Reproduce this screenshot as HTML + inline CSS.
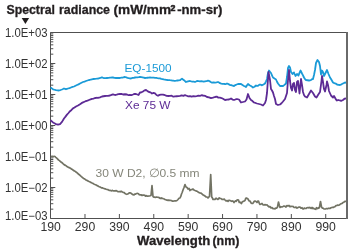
<!DOCTYPE html>
<html><head><meta charset="utf-8"><style>
html,body{margin:0;padding:0;background:#fff;width:350px;height:250px;overflow:hidden}
svg{display:block;will-change:transform}
text{font-family:"Liberation Sans",sans-serif}
</style></head><body>
<svg width="350" height="250" viewBox="0 0 350 250">
<rect width="350" height="250" fill="#fff"/>
<g font-weight="bold" fill="#231f20" stroke="#231f20" stroke-width="0.3">
<text x="6.5" y="13.7" font-size="12" textLength="48.5" lengthAdjust="spacingAndGlyphs">Spectral</text>
<text x="59" y="13.7" font-size="12" textLength="51" lengthAdjust="spacingAndGlyphs">radiance</text>
<text x="113.5" y="13.7" font-size="12" textLength="57.5" lengthAdjust="spacingAndGlyphs">(mW/mm</text>
<text x="170.5" y="10.8" font-size="8.8" stroke-width="0.6">2</text>
<text x="177.2" y="13.7" font-size="12" textLength="45.3" lengthAdjust="spacingAndGlyphs">-nm-sr)</text>
</g>
<path d="M21.7 18H29.1L25.4 24Z" fill="#231f20"/>
<g fill="#333">
<text x="5" y="37.0" font-size="12" textLength="42.5" lengthAdjust="spacingAndGlyphs">1.0E+03</text>
<text x="5" y="68.0" font-size="12" textLength="42.5" lengthAdjust="spacingAndGlyphs">1.0E+02</text>
<text x="5" y="99.0" font-size="12" textLength="42.5" lengthAdjust="spacingAndGlyphs">1.0E+01</text>
<text x="5" y="130.0" font-size="12" textLength="42.5" lengthAdjust="spacingAndGlyphs">1.0E+00</text>
<text x="5" y="161.0" font-size="12" textLength="42.5" lengthAdjust="spacingAndGlyphs">1.0E−01</text>
<text x="5" y="192.0" font-size="12" textLength="42.5" lengthAdjust="spacingAndGlyphs">1.0E−02</text>
<text x="5" y="220.0" font-size="12" textLength="42.5" lengthAdjust="spacingAndGlyphs">1.0E−03</text>
<text x="40.4" y="230.5" font-size="12.5" textLength="20.4" lengthAdjust="spacingAndGlyphs">190</text>
<text x="74.8" y="230.5" font-size="12.5" textLength="20.4" lengthAdjust="spacingAndGlyphs">290</text>
<text x="109.2" y="230.5" font-size="12.5" textLength="20.4" lengthAdjust="spacingAndGlyphs">390</text>
<text x="143.6" y="230.5" font-size="12.5" textLength="20.4" lengthAdjust="spacingAndGlyphs">490</text>
<text x="178.0" y="230.5" font-size="12.5" textLength="20.4" lengthAdjust="spacingAndGlyphs">590</text>
<text x="212.3" y="230.5" font-size="12.5" textLength="20.4" lengthAdjust="spacingAndGlyphs">690</text>
<text x="246.7" y="230.5" font-size="12.5" textLength="20.4" lengthAdjust="spacingAndGlyphs">790</text>
<text x="281.1" y="230.5" font-size="12.5" textLength="20.4" lengthAdjust="spacingAndGlyphs">890</text>
<text x="315.5" y="230.5" font-size="12.5" textLength="20.4" lengthAdjust="spacingAndGlyphs">990</text>
</g>
<g font-size="12" font-weight="bold" fill="#231f20" stroke="#231f20" stroke-width="0.3">
<text x="137" y="245" textLength="73.3" lengthAdjust="spacingAndGlyphs">Wavelength</text>
<text x="212.5" y="245" textLength="26.8" lengthAdjust="spacingAndGlyphs">(nm)</text>
</g>
<g fill="none" stroke="#505050" stroke-width="1">
<path d="M50.5 218.5V32.5H346M50.5 218.5H346"/>
<path d="M347 32V219" stroke="#6a6a6a" stroke-width="2"/>
<path d="M50.5 32.5h4.8 M50.5 54.17h2.8 M50.5 48.71h2.8 M50.5 44.84h2.8 M50.5 41.83h2.8 M50.5 39.38h2.8 M50.5 37.30h2.8 M50.5 35.50h2.8 M50.5 33.92h2.8 M50.5 63.5h4.8 M50.5 85.17h2.8 M50.5 79.71h2.8 M50.5 75.84h2.8 M50.5 72.83h2.8 M50.5 70.38h2.8 M50.5 68.30h2.8 M50.5 66.50h2.8 M50.5 64.92h2.8 M50.5 94.5h4.8 M50.5 116.17h2.8 M50.5 110.71h2.8 M50.5 106.84h2.8 M50.5 103.83h2.8 M50.5 101.38h2.8 M50.5 99.30h2.8 M50.5 97.50h2.8 M50.5 95.92h2.8 M50.5 125.5h4.8 M50.5 147.17h2.8 M50.5 141.71h2.8 M50.5 137.84h2.8 M50.5 134.83h2.8 M50.5 132.38h2.8 M50.5 130.30h2.8 M50.5 128.50h2.8 M50.5 126.92h2.8 M50.5 156.5h4.8 M50.5 178.17h2.8 M50.5 172.71h2.8 M50.5 168.84h2.8 M50.5 165.83h2.8 M50.5 163.38h2.8 M50.5 161.30h2.8 M50.5 159.50h2.8 M50.5 157.92h2.8 M50.5 187.5h4.8 M50.5 209.17h2.8 M50.5 203.71h2.8 M50.5 199.84h2.8 M50.5 196.83h2.8 M50.5 194.38h2.8 M50.5 192.30h2.8 M50.5 190.50h2.8 M50.5 188.92h2.8 M50.5 218.5h4.8 M84.99 218v-4 M119.38 218v-4 M153.77 218v-4 M188.16 218v-4 M222.55 218v-4 M256.94 218v-4 M291.33 218v-4 M325.72 218v-4"/>
</g>
<polyline fill="none" stroke="#1a9ad7" stroke-width="1.8" stroke-linejoin="round" points="50.50,87.50 51.75,88.35 53.00,89.30 54.50,89.76 56.00,90.20 57.50,90.33 59.00,90.50 60.50,90.02 62.00,89.50 63.00,89.02 64.00,88.50 65.00,88.82 66.00,89.30 67.00,88.81 68.00,88.50 69.50,88.06 71.00,87.50 72.50,86.96 74.00,86.50 75.50,85.70 77.00,85.00 78.50,84.34 80.00,83.50 81.50,82.74 83.00,82.00 84.50,81.56 86.00,81.00 87.50,80.50 89.00,80.00 90.50,79.68 92.00,79.30 93.50,78.99 95.00,78.80 96.50,78.67 98.00,78.50 99.50,78.17 101.00,77.70 102.00,77.30 103.00,77.75 104.00,78.20 105.50,78.14 107.00,78.00 108.50,77.88 110.00,77.70 111.50,77.52 113.00,77.50 114.50,77.80 116.00,78.00 117.33,78.02 118.67,77.96 120.00,78.00 121.25,77.67 122.50,77.57 123.75,77.25 125.00,77.00 126.25,77.41 127.50,77.82 128.75,78.16 130.00,78.50 131.25,78.33 132.50,77.98 133.75,77.80 135.00,77.50 136.25,77.37 137.50,77.33 138.75,77.19 140.00,77.00 141.25,77.18 142.50,77.43 143.75,77.70 145.00,78.00 146.25,77.96 147.50,77.74 148.75,77.65 150.00,77.50 151.25,77.54 152.50,77.65 153.75,77.70 155.00,77.80 156.25,77.92 157.50,78.12 158.75,78.27 160.00,78.40 161.25,78.77 162.50,79.03 163.75,79.38 165.00,79.60 166.25,79.81 167.50,79.99 168.75,80.08 170.00,80.20 171.25,80.29 172.50,80.56 173.75,80.73 175.00,80.80 176.25,80.72 177.50,80.51 178.75,80.39 180.00,80.20 181.00,79.35 182.00,78.60 183.00,79.46 184.00,80.20 185.00,81.11 186.00,82.00 187.00,81.66 188.00,81.40 189.00,81.12 190.00,81.00 191.25,81.31 192.50,81.59 193.75,81.68 195.00,82.00 196.00,81.55 197.00,81.00 198.50,81.18 200.00,81.40 201.25,81.19 202.50,81.28 203.75,81.56 205.00,81.40 206.50,81.22 208.00,80.60 209.33,80.99 210.67,82.00 212.00,82.60 213.50,82.33 215.00,82.60 216.50,82.43 218.00,82.00 219.00,82.50 220.00,83.20 221.25,83.63 222.50,83.89 223.75,83.80 225.00,84.00 226.00,84.05 227.00,83.50 228.50,84.14 230.00,85.00 231.33,85.08 232.67,85.73 234.00,86.00 235.33,85.05 236.67,84.49 238.00,84.00 239.50,83.94 241.00,84.00 242.50,85.07 244.00,86.00 245.00,86.29 246.00,87.00 247.00,85.23 248.00,84.00 249.50,85.22 251.00,86.00 252.00,86.64 253.00,87.50 254.50,86.78 256.00,85.50 257.00,85.89 258.00,85.80 259.00,85.08 260.00,84.50 261.00,84.88 262.00,85.30 263.50,84.41 265.00,83.50 266.00,81.34 267.00,79.00 268.00,73.00 269.00,70.50 270.00,71.81 271.00,73.00 272.00,75.29 273.00,77.50 274.50,78.57 276.00,79.50 277.00,81.76 278.00,83.50 279.00,84.75 280.00,86.00 281.50,85.96 283.00,86.00 284.50,84.88 286.00,83.50 287.00,77.00 288.00,68.00 289.00,66.00 290.00,67.50 291.00,72.00 292.50,74.00 294.00,72.50 295.50,76.00 297.00,74.00 298.50,75.50 299.50,72.84 300.50,70.50 302.00,73.50 303.00,75.38 304.00,77.50 305.00,79.04 306.00,80.00 307.50,80.26 309.00,80.50 310.00,80.28 311.00,80.00 312.00,79.21 313.00,79.00 314.00,75.00 315.00,70.00 316.00,63.00 317.50,60.00 319.00,62.00 320.00,66.00 321.00,74.50 322.00,70.50 323.00,72.00 324.00,76.00 325.50,73.00 327.00,70.00 328.50,74.00 330.00,77.50 331.00,79.00 332.00,80.70 333.00,82.50 334.33,83.21 335.67,83.55 337.00,84.50 338.50,84.82 340.00,85.00 341.50,84.33 343.00,83.50 344.50,82.74 346.00,82.50"/>
<polyline fill="none" stroke="#5d2b95" stroke-width="1.8" stroke-linejoin="round" points="50.50,120.20 53.00,122.40 54.50,123.29 56.00,124.10 58.00,124.70 60.00,124.10 62.00,121.90 64.00,118.50 65.50,116.63 67.00,114.60 68.50,113.00 70.00,111.20 71.50,109.95 73.00,108.40 74.50,107.53 76.00,106.50 78.00,105.49 80.00,104.20 81.50,103.14 83.00,102.40 84.50,101.69 86.00,101.00 87.50,100.65 89.00,100.00 90.50,99.45 92.00,98.80 93.50,98.53 95.00,98.00 96.50,97.77 98.00,97.80 100.00,97.30 102.00,96.50 103.50,96.24 105.00,96.00 106.50,95.82 108.00,95.80 110.00,95.50 111.50,94.91 113.00,94.30 115.00,95.00 116.67,94.69 118.33,94.17 120.00,94.00 121.50,93.94 123.00,94.50 125.00,94.26 127.00,94.50 128.50,95.21 130.00,95.00 131.50,95.04 133.00,94.50 134.50,93.88 136.00,94.00 138.50,95.00 140.00,92.50 141.50,92.33 143.00,91.50 144.50,90.35 146.00,90.00 147.50,91.13 149.00,92.00 150.50,92.34 152.00,93.50 153.50,92.90 155.00,93.40 156.50,95.01 158.00,95.80 159.50,94.88 161.00,94.60 163.00,94.59 165.00,95.20 166.67,95.93 168.33,96.01 170.00,95.80 171.67,95.77 173.33,96.71 175.00,96.40 176.67,96.24 178.33,96.20 180.00,95.80 181.67,95.28 183.33,95.89 185.00,95.20 186.67,95.74 188.33,96.38 190.00,96.20 191.67,96.70 193.33,96.11 195.00,96.40 196.67,96.05 198.33,95.63 200.00,95.80 201.50,95.26 203.00,95.50 205.00,95.77 207.00,97.00 209.00,97.38 211.00,98.20 213.00,97.71 215.00,97.00 216.67,96.65 218.33,97.60 220.00,97.60 221.50,98.02 223.00,98.80 225.00,100.00 227.00,99.54 229.00,99.50 231.00,98.50 232.50,99.60 234.00,100.00 235.50,99.48 237.00,99.00 239.00,99.50 241.00,102.50 243.00,102.00 245.00,101.50 246.50,99.50 248.00,94.00 249.50,98.00 251.00,100.00 252.50,101.05 254.00,102.50 255.50,102.98 257.00,103.50 259.00,104.00 261.00,104.50 263.00,105.50 265.00,103.00 266.00,100.00 267.00,93.00 268.50,72.00 270.00,80.00 271.00,89.00 272.00,90.50 273.00,92.50 274.00,96.00 275.00,99.00 276.00,104.00 278.00,105.00 280.00,104.50 281.50,103.23 283.00,101.50 285.00,99.00 287.00,93.00 288.00,80.00 289.00,70.00 290.00,81.00 291.00,88.00 292.00,90.50 293.00,84.00 294.00,83.00 295.00,90.00 296.00,92.00 297.00,82.00 298.00,81.00 299.50,93.50 301.00,79.00 302.00,85.00 303.00,92.00 304.00,95.00 305.00,96.50 307.00,97.50 309.00,94.00 311.00,90.50 313.00,93.00 315.00,96.50 316.50,97.50 318.00,95.00 320.00,92.00 321.50,81.00 322.00,76.00 323.00,82.00 324.00,89.00 325.00,91.50 326.50,85.00 327.00,81.50 328.00,85.00 329.00,91.00 331.00,95.50 333.00,97.50 334.00,96.00 336.00,99.50 337.00,100.50 338.50,100.01 340.00,100.50 341.50,100.77 343.00,100.00 344.50,98.73 346.00,98.50"/>
<polyline fill="none" stroke="#727364" stroke-width="1.7" stroke-linejoin="round" points="51.00,156.50 51.80,156.45 52.60,156.40 53.40,156.55 54.20,156.37 55.00,156.50 55.75,157.26 56.50,157.96 57.25,158.62 58.00,159.50 58.75,160.13 59.50,160.61 60.25,161.36 61.00,162.00 61.75,162.50 62.50,163.13 63.25,163.85 64.00,164.50 64.75,165.10 65.50,165.39 66.25,165.92 67.00,166.50 67.75,166.91 68.50,167.38 69.25,167.65 70.00,168.00 70.75,168.47 71.50,169.14 72.25,169.36 73.00,170.00 73.75,170.61 74.50,170.94 75.25,171.39 76.00,172.00 76.75,172.51 77.50,173.19 78.25,173.97 79.00,174.50 79.80,175.10 80.60,175.92 81.40,176.64 82.20,177.26 83.00,178.00 83.75,178.51 84.50,178.87 85.25,179.37 86.00,180.00 86.75,180.29 87.50,180.80 88.25,181.10 89.00,181.50 89.75,181.82 90.50,182.28 91.25,182.61 92.00,183.00 92.75,183.31 93.50,183.84 94.25,184.18 95.00,184.50 95.75,184.80 96.50,185.27 97.25,185.63 98.00,186.00 98.75,186.49 99.50,186.82 100.25,187.06 101.00,187.50 101.75,187.89 102.50,187.89 103.25,188.23 104.00,188.50 104.75,188.83 105.50,188.90 106.25,189.25 107.00,189.50 107.75,189.56 108.50,190.07 109.25,190.36 110.00,190.30 110.75,190.47 111.50,190.88 112.25,190.41 113.00,190.70 113.75,190.90 114.50,190.79 115.25,190.78 116.00,190.70 116.75,190.86 117.50,191.44 118.25,191.74 119.00,191.50 119.75,191.55 120.50,191.81 121.25,191.29 122.00,191.80 123.00,192.35 124.00,192.50 125.00,193.40 126.00,194.00 126.83,194.33 127.67,193.99 128.50,193.50 129.25,192.93 130.00,192.80 131.00,193.29 132.00,194.00 133.00,194.67 134.00,195.00 134.75,194.15 135.50,194.21 136.25,193.54 137.00,193.50 137.75,193.44 138.50,193.71 139.25,194.74 140.00,194.80 141.00,194.78 142.00,195.50 143.00,195.10 144.00,195.20 144.75,195.34 145.50,196.07 146.25,195.53 147.00,196.20 148.00,196.05 149.00,196.00 150.00,195.80 151.00,195.50 152.00,185.50 153.00,196.50 153.75,197.06 154.50,197.17 155.25,197.39 156.00,197.20 156.75,197.05 157.50,197.27 158.25,197.28 159.00,197.50 159.75,198.13 160.50,198.46 161.25,197.90 162.00,198.50 162.75,198.43 163.50,198.73 164.25,198.98 165.00,199.50 165.75,199.73 166.50,200.09 167.25,200.01 168.00,200.50 168.75,200.00 169.50,200.42 170.25,200.37 171.00,200.50 171.75,200.69 172.50,201.20 173.25,201.07 174.00,201.00 174.75,200.89 175.50,200.87 176.25,200.80 177.00,200.50 178.00,199.50 179.00,198.30 180.00,198.00 180.75,196.40 181.50,194.00 182.25,192.28 183.00,190.00 184.00,187.50 185.00,184.50 186.00,187.00 187.00,187.50 188.00,189.00 189.00,188.50 190.00,190.50 191.00,189.50 192.00,189.62 193.00,189.00 194.00,190.05 195.00,190.50 195.75,190.77 196.50,191.15 197.25,191.23 198.00,192.00 199.00,192.63 200.00,193.00 200.75,193.06 201.50,193.57 202.25,194.21 203.00,195.00 203.75,195.16 204.50,195.84 205.25,196.05 206.00,197.00 207.00,197.00 208.00,198.00 208.75,196.90 209.50,196.50 210.70,174.50 211.70,197.00 212.35,197.85 213.00,199.50 214.00,199.36 215.00,199.50 216.00,198.20 217.00,198.80 217.75,199.47 218.50,198.88 219.25,197.87 220.00,198.50 221.00,198.50 222.00,199.50 222.75,199.32 223.50,199.48 224.25,199.12 225.00,200.00 226.00,200.95 227.00,200.50 228.00,201.34 229.00,200.20 230.00,200.53 231.00,201.00 231.75,201.34 232.50,200.92 233.25,201.33 234.00,202.50 234.75,201.56 235.50,200.78 236.25,201.28 237.00,200.00 237.75,199.82 238.50,200.05 239.25,202.40 240.00,202.00 240.75,202.81 241.50,203.50 242.25,201.79 243.00,201.50 244.00,201.09 245.00,200.50 245.75,198.30 246.50,198.00 247.25,198.56 248.00,199.00 249.00,200.96 250.00,201.00 251.00,202.98 252.00,203.50 252.75,203.39 253.50,202.50 254.25,201.27 255.00,201.00 256.00,201.48 257.00,202.50 257.75,201.08 258.50,201.00 259.25,203.29 260.00,204.50 261.00,204.07 262.00,203.50 263.00,204.81 264.00,205.00 265.00,204.66 266.00,205.00 267.00,204.95 268.00,206.00 269.00,206.87 270.00,206.50 271.00,207.97 272.00,207.50 273.00,208.71 274.00,208.50 275.00,208.86 276.00,208.00 276.75,208.14 277.50,207.00 278.50,202.00 279.25,205.23 280.00,207.50 281.00,206.70 282.00,207.00 283.00,206.54 284.00,206.00 285.00,206.21 286.00,207.00 287.00,205.56 288.00,206.00 289.00,205.46 290.00,206.80 291.00,206.21 292.00,206.50 293.00,206.42 294.00,207.30 295.00,207.54 296.00,207.00 297.00,208.16 298.00,207.50 299.00,207.14 300.00,207.00 301.00,208.22 302.00,207.70 302.75,208.88 303.50,209.01 304.25,208.03 305.00,208.50 306.00,208.50 306.75,207.82 307.50,207.70 308.25,207.52 309.00,208.00 309.75,207.28 310.50,208.00 311.25,208.43 312.00,207.50 312.75,208.56 313.50,208.21 314.25,208.93 315.00,209.00 315.75,209.35 316.50,207.67 317.25,208.57 318.00,208.00 318.75,208.32 319.50,207.00 320.50,201.50 321.50,207.00 322.25,208.06 323.00,208.00 324.00,209.00 325.00,209.00 325.75,208.83 326.50,208.52 327.25,208.83 328.00,208.50 328.75,208.21 329.50,208.36 330.25,208.31 331.00,207.80 331.75,207.53 332.50,207.33 333.25,207.51 334.00,207.00 334.75,206.78 335.50,206.02 336.25,205.61 337.00,205.50 337.75,205.01 338.50,205.28 339.25,204.96 340.00,204.50 340.75,203.75 341.50,203.73 342.25,203.34 343.00,202.50 343.75,202.24 344.50,201.65 345.25,201.41 346.00,201.00"/>
<text x="124.5" y="72" font-size="11.5" fill="#1a9ad7" textLength="47" lengthAdjust="spacingAndGlyphs">EQ-1500</text>
<text x="125" y="108.5" font-size="11.5" fill="#5d2b95" textLength="45.5" lengthAdjust="spacingAndGlyphs">Xe 75 W</text>
<text x="95.5" y="176.5" font-size="11.5" fill="#85867a" textLength="104" lengthAdjust="spacingAndGlyphs">30 W D2, ∅0.5 mm</text>
</svg>
</body></html>
